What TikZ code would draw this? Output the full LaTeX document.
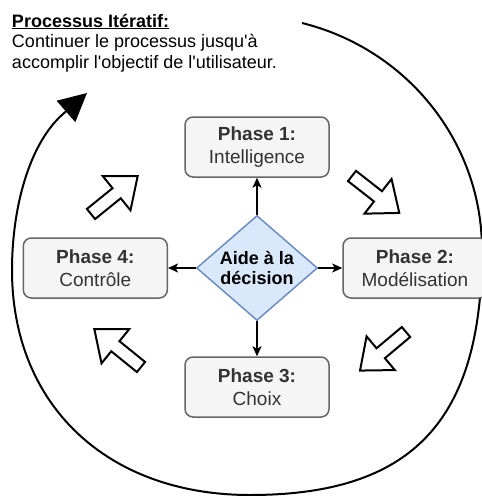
\documentclass[tikz,border=0pt]{standalone}
\usepackage{fontspec}
\setmainfont{Liberation Sans}
\usetikzlibrary{shapes.geometric,arrows.meta}
\definecolor{boxfill}{HTML}{F5F5F5}
\definecolor{boxline}{HTML}{666666}
\definecolor{boxtext}{HTML}{333333}
\definecolor{dfill}{HTML}{DAE8FC}
\definecolor{dline}{HTML}{6C8EBF}
\tikzset{
  phasebox/.style={draw=boxline, fill=boxfill, line width=1.5pt, rounded corners=8pt,
    minimum width=144pt, minimum height=60pt, inner sep=0pt, align=center,
    text=boxtext, font=\fontsize{19}{22.7}\selectfont},
  decision/.style={diamond, aspect=1.15, draw=dline, fill=dfill, line width=1.5pt,
    minimum width=121pt, minimum height=105pt, inner sep=0pt, align=center,
    font=\fontsize{18}{20.7}\selectfont\bfseries},
  link/.style={line width=1.6pt, -{Stealth[length=10pt,width=9pt,inset=2.5pt]}},
  loopline/.style={line width=2pt, -{Triangle[length=28pt,width=28pt]}},
  blockarrow/.style={draw=black, line width=2pt, fill=white, line join=miter},
  blockarr/.pic={\draw[blockarrow] (0,-6.5) -- (33,-6.5) -- (33,-22) -- (60,0) -- (33,22) -- (33,6.5) -- (0,6.5) -- cycle;},
  note/.style={anchor=base west, inner sep=0pt, font=\fontsize{18}{20.5}\selectfont}
}
\begin{document}
\begin{tikzpicture}[x=1pt, y=-1pt]
\useasboundingbox (0,0) rectangle (482,496);
\clip (0,0) rectangle (482,496);
% iterative loop
\coordinate (loopstart) at (302,23);
\coordinate (loopend) at (87,93);
\draw[loopline] (loopstart)
  .. controls (407,49) and (482,142) .. (482,250)
  .. controls (482,421) and (412,495) .. (250,495)
  .. controls (107,495) and (12,405) .. (12,270)
  .. controls (12,208) and (29,144) .. (63,114)
  -- (loopend);
% title
\node[note, font=\fontsize{18}{20.5}\selectfont\bfseries] (title) at (11.8,27) {\underline{Processus Itératif:}};
\node[note] (desc1) at (11.8,47.5) {Continuer le processus jusqu\textquotesingle à};
\node[note] (desc2) at (11.8,68) {accomplir l\textquotesingle objectif de l\textquotesingle utilisateur.};
% block arrows
\pic[rotate=39] (ul) at (91,214) {blockarr};
\pic[rotate=-38] (ur) at (352,176) {blockarr};
\pic[rotate=-140] (lr) at (406,332) {blockarr};
\pic[rotate=141] (ll) at (141,367) {blockarr};
% nodes
\node[decision] (d) at (257,268) {Aide à la\\décision};
\node[phasebox] (p1) at (257,147) {\textbf{Phase 1:}\\Intelligence};
\node[phasebox] (p3) at (257,387) {\textbf{Phase 3:}\\Choix};
\node[phasebox] (p4) at (95.3,268) {\textbf{Phase 4:}\\Contrôle};
\node[phasebox] (p2) at (415,268) {\textbf{Phase 2:}\\Modélisation};
% connectors
\draw[link] (d.north) -- (p1.south);
\draw[link] (d.east) -- (p2.west);
\draw[link] (d.south) -- (p3.north);
\draw[link] (d.west) -- (p4.east);
\end{tikzpicture}
\end{document}
